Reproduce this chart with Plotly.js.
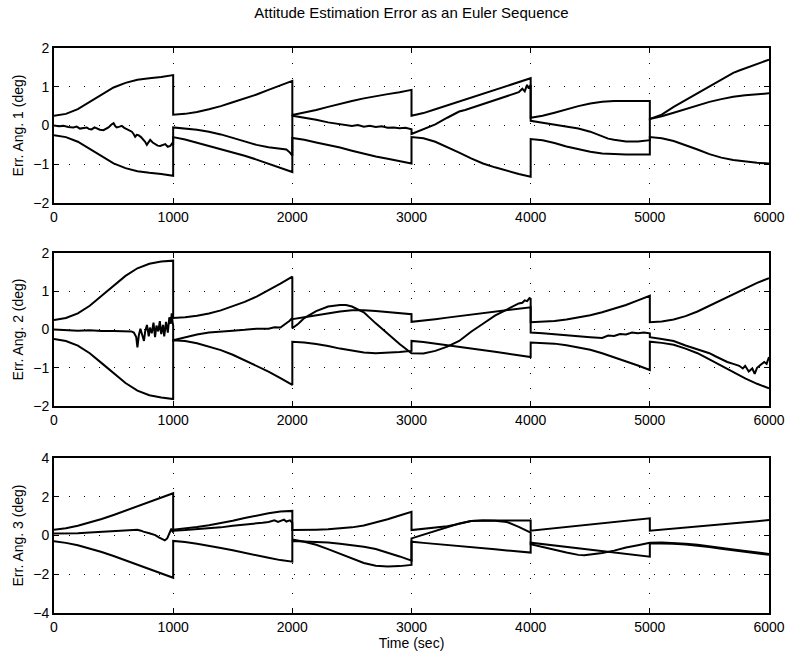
<!DOCTYPE html>
<html>
<head>
<meta charset="utf-8">
<script src="https://cdn.plot.ly/plotly-3.0.1.min.js"></script>
<style>html,body{margin:0;padding:0;background:#fff;}</style>
</head>
<body>
<div id="chart" style="width:787px;height:660px;"></div>
<script>
// shared time grid for the covariance bounds (duplicates = filter update jumps)
const tB = [0,100,200,300,400,500,600,700,800,900,1000,
            1000,1100,1200,1300,1400,1500,1600,1700,1800,1900,2000,
            2000,2100,2200,2300,2400,2500,2600,2700,2800,2900,3000,
            3000,3100,3200,3300,3400,3500,3600,3700,3800,3900,4000,
            4000,4100,4200,4300,4400,4500,4600,4700,4800,4900,5000,
            5000,5100,5200,5300,5400,5500,5600,5700,5800,5900,6000];

// ---- Panel 1: Err. Ang. 1 ----
const up1 = [0.25,0.3,0.42,0.6,0.8,0.98,1.1,1.18,1.22,1.25,1.3,
             0.28,0.3,0.35,0.42,0.5,0.6,0.7,0.8,0.92,1.03,1.15,
             0.27,0.33,0.4,0.48,0.56,0.63,0.7,0.76,0.81,0.86,0.92,
             0.25,0.32,0.42,0.52,0.62,0.72,0.82,0.92,1.02,1.12,1.22,
             0.2,0.25,0.33,0.42,0.5,0.57,0.61,0.63,0.63,0.63,0.63,
             0.17,0.24,0.33,0.43,0.53,0.61,0.68,0.74,0.78,0.81,0.83];
const lo1 = [-0.25,-0.3,-0.42,-0.6,-0.8,-0.98,-1.1,-1.18,-1.22,-1.25,-1.3,
             -0.3,-0.36,-0.44,-0.52,-0.6,-0.69,-0.78,-0.88,-0.98,-1.08,-1.2,
             -0.32,-0.37,-0.44,-0.5,-0.57,-0.65,-0.73,-0.8,-0.86,-0.92,-0.98,
             -0.3,-0.33,-0.42,-0.55,-0.7,-0.85,-0.98,-1.08,-1.17,-1.25,-1.32,
             -0.35,-0.38,-0.45,-0.54,-0.62,-0.68,-0.72,-0.74,-0.75,-0.75,-0.75,
             -0.3,-0.33,-0.4,-0.5,-0.62,-0.74,-0.83,-0.89,-0.93,-0.96,-0.98];
const tE1 = [0,40,78,120,162,190,218,245,275,295,316,340,358,385,415,435,457,480,500,515,527,550,569,590,611,630,653,668,681,695,709,730,751,765,779,793,807,828,849,870,891,912,933,955,975,992,1000,
             1000,1100,1200,1300,1400,1500,1600,1700,1800,1900,1950,1980,2000,
             2000,2100,2200,2300,2400,2450,2500,2550,2600,2650,2700,2750,2800,2850,2900,2950,3000,
             3000,3100,3200,3300,3350,3400,3450,3500,3550,3600,3650,3700,3750,3800,3850,3900,3930,3950,3970,3985,4000,
             4000,4100,4200,4300,4400,4500,4550,4600,4650,4700,4800,4900,5000,
             5000,5100,5200,5300,5400,5500,5600,5700,5750,5800,5850,5900,5950,6000];
const er1 = [0,-0.02,-0.01,-0.04,-0.05,-0.03,-0.08,-0.06,-0.05,-0.09,-0.1,-0.05,-0.07,-0.11,-0.12,-0.08,-0.05,0.02,0.06,-0.02,-0.05,-0.03,-0.01,-0.06,-0.1,-0.12,-0.16,-0.22,-0.29,-0.24,-0.25,-0.3,-0.36,-0.42,-0.5,-0.42,-0.37,-0.44,-0.48,-0.52,-0.53,-0.5,-0.48,-0.55,-0.53,-0.46,-0.5,
             -0.05,-0.08,-0.11,-0.16,-0.23,-0.32,-0.42,-0.5,-0.56,-0.59,-0.62,-0.7,-0.78,
             0.25,0.2,0.15,0.08,0.03,0.0,-0.01,0.01,-0.03,-0.01,-0.04,-0.02,-0.06,-0.05,-0.07,-0.06,-0.1,
             -0.22,-0.1,0.03,0.2,0.28,0.36,0.4,0.45,0.5,0.55,0.62,0.66,0.72,0.76,0.82,0.86,0.95,0.88,1.05,0.95,1.05,
             0.12,0.07,0.02,-0.03,-0.08,-0.16,-0.22,-0.3,-0.34,-0.37,-0.41,-0.41,-0.38,
             0.17,0.28,0.48,0.66,0.84,1.02,1.2,1.36,1.42,1.48,1.53,1.59,1.64,1.7];

// ---- Panel 2: Err. Ang. 2 ----
const up2 = [0.25,0.3,0.42,0.62,0.88,1.15,1.4,1.6,1.72,1.78,1.8,
             0.3,0.32,0.36,0.42,0.5,0.6,0.72,0.86,1.02,1.2,1.38,
             0.27,0.32,0.37,0.42,0.47,0.5,0.5,0.48,0.46,0.43,0.4,
             0.2,0.23,0.27,0.31,0.35,0.39,0.43,0.47,0.51,0.55,0.58,
             0.19,0.2,0.22,0.26,0.31,0.37,0.45,0.54,0.64,0.76,0.88,
             0.19,0.21,0.26,0.35,0.47,0.62,0.78,0.94,1.08,1.22,1.34];
const lo2 = [-0.25,-0.3,-0.42,-0.62,-0.88,-1.15,-1.4,-1.6,-1.72,-1.78,-1.82,
             -0.28,-0.3,-0.36,-0.44,-0.54,-0.66,-0.8,-0.95,-1.1,-1.27,-1.45,
             -0.32,-0.34,-0.38,-0.43,-0.5,-0.56,-0.6,-0.62,-0.61,-0.59,-0.56,
             -0.3,-0.33,-0.37,-0.41,-0.45,-0.49,-0.54,-0.58,-0.63,-0.68,-0.72,
             -0.34,-0.35,-0.37,-0.41,-0.46,-0.53,-0.62,-0.72,-0.83,-0.94,-1.06,
             -0.32,-0.35,-0.4,-0.5,-0.62,-0.78,-0.95,-1.12,-1.28,-1.42,-1.54];
const tE2 = [0,100,200,300,400,500,600,650,670,690,700,712,725,740,755,765,780,795,805,820,835,848,860,875,888,900,915,925,940,955,968,980,988,995,1000,
             1000,1100,1200,1300,1400,1500,1600,1700,1800,1850,1900,1950,1975,2000,
             2000,2050,2100,2200,2300,2400,2450,2500,2600,2700,2800,2900,3000,
             3000,3100,3200,3300,3400,3500,3600,3700,3800,3850,3900,3930,3950,3970,3990,4000,
             4000,4100,4200,4300,4400,4500,4600,4650,4700,4750,4800,4850,4900,4950,5000,
             5000,5100,5200,5300,5400,5450,5500,5550,5600,5650,5700,5750,5780,5800,5830,5860,5880,5900,5930,5960,5980,6000];
const er2 = [0,-0.02,-0.03,-0.02,-0.04,-0.04,-0.05,-0.05,-0.08,-0.2,-0.47,-0.15,0.02,-0.12,-0.3,-0.05,0.12,-0.18,0.05,-0.1,0.18,-0.2,0.1,-0.05,0.22,-0.12,0.12,-0.18,0.2,-0.08,0.32,0.15,0.42,0.2,0.1,
             -0.28,-0.2,-0.13,-0.08,-0.05,-0.03,-0.01,0.02,0.02,0.06,0.05,0.15,0.22,0.3,
             0.03,0.15,0.3,0.48,0.6,0.64,0.64,0.6,0.45,0.16,-0.12,-0.38,-0.62,
             -0.62,-0.63,-0.56,-0.45,-0.3,-0.06,0.15,0.36,0.52,0.6,0.68,0.7,0.76,0.74,0.82,0.8,
             -0.08,-0.1,-0.13,-0.16,-0.18,-0.2,-0.22,-0.16,-0.17,-0.12,-0.13,-0.08,-0.1,-0.08,-0.1,
             -0.2,-0.25,-0.3,-0.42,-0.52,-0.58,-0.62,-0.7,-0.78,-0.85,-0.9,-0.95,-1.02,-0.95,-1.1,-1.02,-1.16,-1.0,-0.92,-0.85,-0.9,-0.72];

// ---- Panel 3: Err. Ang. 3 ----
const up3 = [0.3,0.38,0.5,0.66,0.85,1.06,1.28,1.5,1.72,1.95,2.18,
             0.3,0.36,0.44,0.53,0.64,0.76,0.9,1.03,1.15,1.24,1.27,
             0.28,0.28,0.3,0.32,0.36,0.42,0.52,0.66,0.84,1.03,1.22,
             0.28,0.34,0.4,0.48,0.6,0.75,0.78,0.78,0.78,0.78,0.78,
             0.25,0.31,0.38,0.44,0.5,0.57,0.63,0.7,0.76,0.83,0.89,
             0.25,0.3,0.35,0.4,0.45,0.5,0.56,0.62,0.68,0.74,0.8];
const lo3 = [-0.3,-0.38,-0.5,-0.66,-0.85,-1.06,-1.28,-1.5,-1.72,-1.95,-2.18,
             -0.28,-0.33,-0.42,-0.52,-0.64,-0.76,-0.9,-1.03,-1.15,-1.27,-1.35,
             -0.28,-0.3,-0.32,-0.36,-0.42,-0.5,-0.58,-0.7,-0.88,-1.08,-1.3,
             -0.32,-0.38,-0.43,-0.49,-0.54,-0.6,-0.66,-0.71,-0.77,-0.82,-0.88,
             -0.37,-0.44,-0.51,-0.58,-0.66,-0.73,-0.8,-0.87,-0.94,-1.02,-1.09,
             -0.4,-0.4,-0.42,-0.46,-0.52,-0.6,-0.68,-0.76,-0.85,-0.93,-1.0];
const tE3 = [0,100,200,300,400,500,600,700,730,750,800,850,880,910,930,950,965,985,1000,
             1000,1100,1200,1300,1400,1500,1600,1700,1750,1800,1850,1880,1900,1930,1950,1980,2000,
             2000,2100,2200,2300,2400,2500,2600,2700,2800,2900,3000,
             3000,3100,3200,3300,3400,3500,3600,3700,3800,3900,4000,
             4000,4100,4200,4300,4400,4450,4500,4600,4700,4800,4900,5000,
             5000,5100,5200,5300,5400,5500,5600,5700,5800,5900,6000];
const er3 = [0.1,0.1,0.12,0.15,0.18,0.22,0.25,0.3,0.25,0.2,0.12,0.02,-0.1,-0.2,-0.25,-0.15,0.1,0.35,0.15,
             0.25,0.28,0.32,0.37,0.42,0.5,0.55,0.62,0.66,0.7,0.78,0.7,0.75,0.82,0.72,0.78,0.65,
             -0.2,-0.32,-0.48,-0.7,-0.95,-1.2,-1.42,-1.56,-1.6,-1.58,-1.52,
             -0.15,0.05,0.25,0.45,0.62,0.75,0.78,0.76,0.7,0.45,0.15,
             -0.45,-0.6,-0.75,-0.88,-1.0,-1.02,-0.98,-0.9,-0.78,-0.62,-0.5,-0.38,
             -0.38,-0.36,-0.38,-0.42,-0.48,-0.55,-0.63,-0.72,-0.8,-0.88,-0.95];

const xTicks = [0,1000,2000,3000,4000,5000,6000];
const yLabels = ['Err. Ang. 1 (deg)','Err. Ang. 2 (deg)','Err. Ang. 3 (deg)'];

const lineStyle = {color:'#000', width:2};
function tr(x, y, n) {
  return {x:x, y:y, type:'scatter', mode:'lines', line:lineStyle,
          xaxis: n===1 ? 'x' : 'x'+n, yaxis: n===1 ? 'y' : 'y'+n,
          hoverinfo:'skip', showlegend:false};
}
const data = [
  tr(tB, up1, 1), tr(tB, lo1, 1), tr(tE1, er1, 1),
  tr(tB, up2, 2), tr(tB, lo2, 2), tr(tE2, er2, 2),
  tr(tB, up3, 3), tr(tB, lo3, 3), tr(tE3, er3, 3)
];

const font = {family:'"Liberation Sans", Arial, sans-serif', color:'#000', size:14};
function xa(anchor, withTitle) {
  const a = {anchor:anchor, range:[0,6000], tickvals:xTicks, ticktext:xTicks.map(String),
    ticks:'inside', ticklen:5, tickwidth:1, tickcolor:'#000',
    showline:true, linewidth:2, linecolor:'#000', mirror:'ticks',
    showgrid:true, gridcolor:'#000', gridwidth:1, griddash:'1px,14px',
    zeroline:false, tickfont:font, automargin:false};
  if (withTitle) a.title = {text:'Time (sec)', font:font, standoff:2};
  return a;
}
function ya(anchor, dom, rng, dt, label) {
  return {anchor:anchor, domain:dom, range:rng, dtick:dt, tick0:0,
    ticks:'inside', ticklen:5, tickwidth:1, tickcolor:'#000',
    showline:true, linewidth:2, linecolor:'#000', mirror:'ticks',
    showgrid:true, gridcolor:'#000', gridwidth:1, griddash:'1px,14px',
    zeroline:false, tickfont:font, automargin:false,
    title:{text:label, font:font, standoff:6}};
}

const layout = {
  width:787, height:660,
  margin:{l:54, r:18, t:48, b:47},
  paper_bgcolor:'#fff', plot_bgcolor:'#fff',
  title:{text:'Attitude Estimation Error as an Euler Sequence', font:{family:font.family, size:15, color:'#000'},
         x:0.5, xref:'paper', y:0.988, yanchor:'top'},
  xaxis: xa('y', false),
  yaxis: ya('x', [0.7257,1.0], [-2,2], 1, yLabels[0]),
  xaxis2: xa('y2', false),
  yaxis2: ya('x2', [0.3664,0.6372], [-2,2], 1, yLabels[1]),
  xaxis3: xa('y3', true),
  yaxis3: ya('x3', [0,0.2743], [-4,4], 2, yLabels[2]),
  showlegend:false
};

Plotly.newPlot('chart', data, layout, {staticPlot:true, displayModeBar:false});
</script>
</body>
</html>
